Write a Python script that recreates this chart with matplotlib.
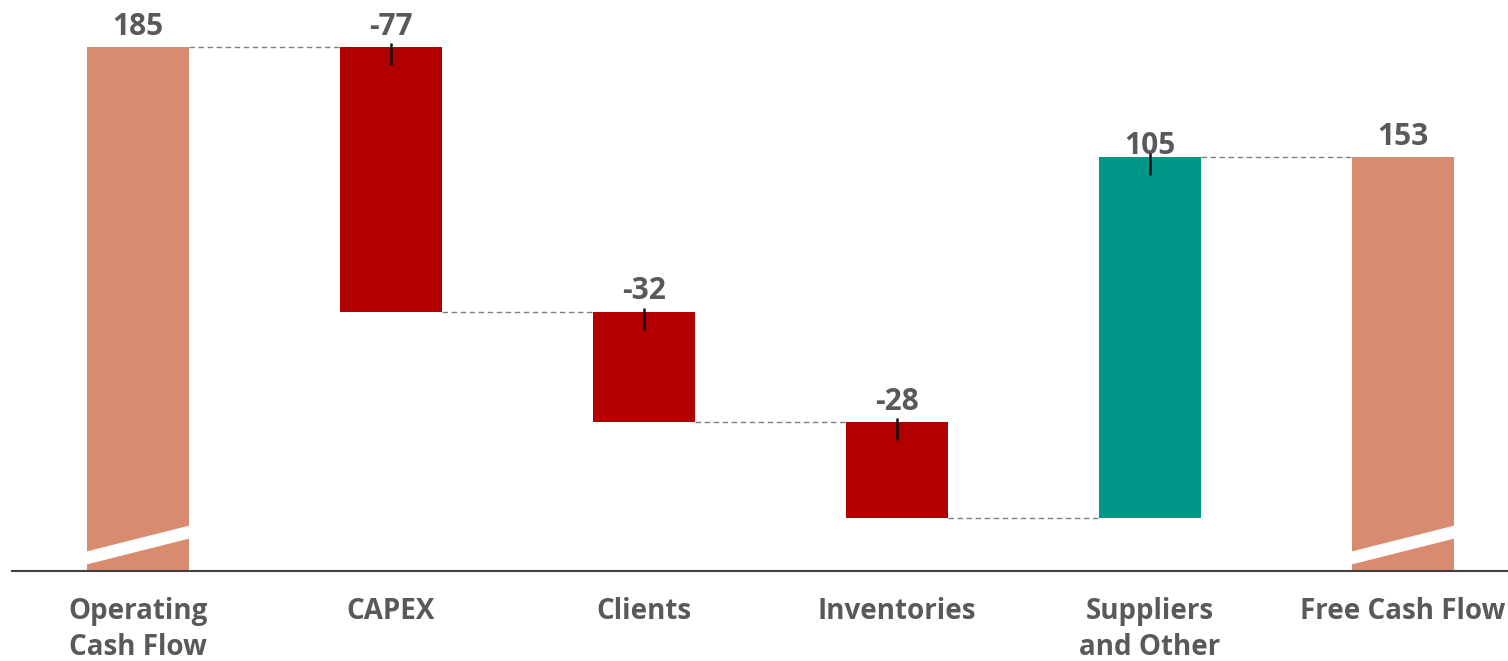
import matplotlib
matplotlib.use("Agg")
import matplotlib.pyplot as plt
from matplotlib.patches import Polygon

categories = ["Operating\nCash Flow", "CAPEX", "Clients", "Inventories", "Suppliers\nand Other", "Free Cash Flow"]
values = [185, -77, -32, -28, 105, 153]
kinds = ["total", "delta", "delta", "delta", "delta", "total"]
value_labels = ["185", "-77", "-32", "-28", "105", "153"]
label_gap_px = [12, 12, 13, 12, 3, 12]

c_total = "#D88B6F"
c_neg = "#B20000"
c_pos = "#00968A"
txt = "#595959"

y_min, y_max = 32.6, 198.7
px = 3.44  # pixels per unit

fig = plt.figure(figsize=(15.08, 6.61), dpi=100)
ax = fig.add_axes([12/1508, (661-571)/661, 1 - 12/1508, 571/661])
ax.set_xlim(-(138-12)/253, (1508-138)/253)
ax.set_ylim(y_min, y_max)

width = 102/253
running = 0
for i, (v, k) in enumerate(zip(values, kinds)):
    if k == "total":
        b, t = y_min, v
        running = v
        col = c_total
    else:
        start = running
        end = running + v
        b, t = min(start, end), max(start, end)
        running = end
        col = c_neg if v < 0 else c_pos
    ax.bar(i, t - b, bottom=b, width=width, color=col, zorder=2)
    ax.text(i, t + label_gap_px[i]/px, value_labels[i], ha="center", va="baseline",
            fontsize=21.5, fontweight="bold", color=txt, family="Open Sans", zorder=4)
    if k == "delta":
        ax.vlines(i, t - 5.2, t + 1.2, color="#111111", lw=1.8, zorder=5)
    if k == "total":
        x0, x1 = i - width/2 - 0.01, i + width/2 + 0.01
        yl_lo = y_min + (571-565)/px
        yl_hi = y_min + (571-552)/px
        yr_lo = y_min + (571-538)/px
        yr_hi = y_min + (571-525)/px
        ax.add_patch(Polygon([[x0, yl_lo], [x1, yr_lo], [x1, yr_hi], [x0, yl_hi]],
                             closed=True, facecolor="white", edgecolor="none", zorder=3))

# connectors
levels = []
running = 0
for v, k in zip(values, kinds):
    running = v if k == "total" else running + v
    levels.append(running)
for i in range(len(values) - 1):
    ax.hlines(levels[i], i + width/2, i + 1 - width/2, color="#7f7f7f",
              lw=1, linestyles=(0, (4, 2.5)), zorder=1)

for s in ["top", "right", "left"]:
    ax.spines[s].set_visible(False)
ax.spines["bottom"].set_color("#404040")
ax.spines["bottom"].set_linewidth(1.5)
ax.set_yticks([])
ax.set_xticks(range(len(categories)))
ax.set_xticklabels(categories, fontsize=20, fontweight="bold", color=txt,
                   family="Open Sans", linespacing=1.3)
ax.tick_params(axis="x", length=0, pad=19)

fig.savefig("out.png", dpi=100)
